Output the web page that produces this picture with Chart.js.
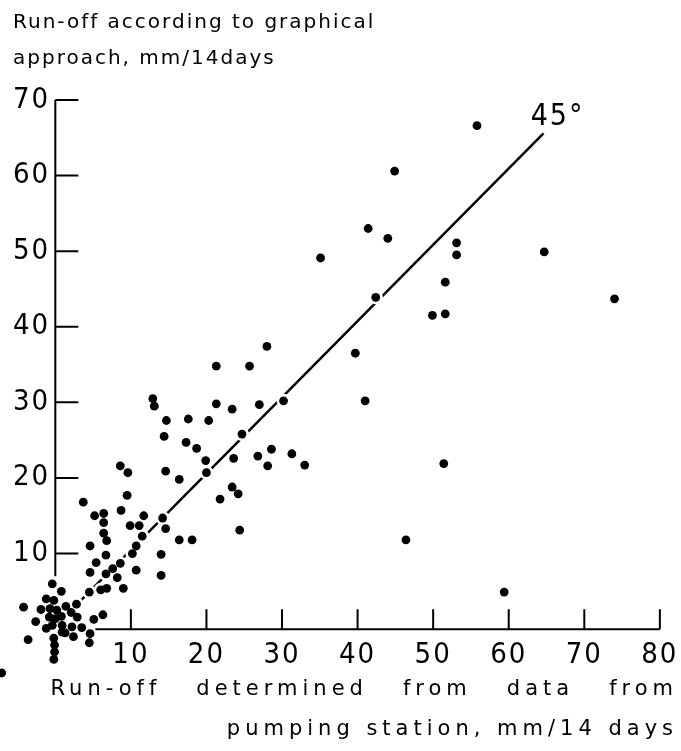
<!DOCTYPE html>
<html>
<head>
<meta charset="utf-8">
<script src="https://cdn.jsdelivr.net/npm/chart.js@4"></script>
<style>
  html, body { margin: 0; padding: 0; background: #fff; }
  #runoffChart { display: block; }
</style>
</head>
<body>
<canvas id="runoffChart" width="681" height="751"></canvas>
<script>
// run-off per 14 days: pumping station data (x) vs graphical approach (y)
var pumpingStation = [
  55.8, 44.9, 41.4, 44.0, 53.1, 53.1, 64.7, 51.6, 42.4, 74.0, 49.9, 51.6, 39.7, 41.0, 51.4, 46.4, 59.4, 35.1,
  28.0, 21.3, 25.7, 12.9, 13.1, 21.3, 23.4, 27.0, 30.2, 14.7, 17.6, 20.3, 14.4, 17.3, 18.7, 19.9, 20.0, 24.7,
  23.6, 26.8, 28.6, 31.3, 28.1, 33.0, 14.6, 16.4, 8.6, 9.6, 23.4, 24.2, 21.8, 9.5, 8.7, 6.4, 6.4, 11.7,
  14.2, 9.9, 11.1, 14.6, 6.4, 6.8, 11.5, 16.4, 18.1, 24.4, 10.7, 10.2, 6.7, 14.0, 8.6, 7.6, 6.7, 8.2,
  10.7, 14.0, 9.0, 6.8,
  3.7, 5.2, 4.6, 5.4, 4.6, -0.4, 4.5, 6.0, 0.8, -0.2, -1.2, -4.2, -1.9, -0.7, 0.2, 1.4, 2.8, 2.1,
  -0.8, 0.0, 0.8, 2.9, -2.6, -0.4, 0.9, -1.2, 0.9, 2.2, 3.5, 5.1, 6.3, 1.3, 2.4, 4.6, 4.5, -3.6,
  -0.2, -0.1, -0.1, -0.2, -7.1
];
var graphical = [
  66.6, 60.6, 53.0, 51.7, 51.1, 49.5, 49.9, 45.9, 43.9, 43.7, 41.5, 41.7, 36.5, 30.2, 21.9, 11.8, 4.9, 49.1,
  37.4, 34.8, 34.8, 30.5, 29.5, 29.8, 29.1, 29.7, 30.2, 27.6, 27.8, 27.6, 25.5, 24.7, 23.9, 22.3, 20.7, 25.8,
  22.6, 22.9, 23.8, 23.2, 21.6, 21.7, 20.9, 19.8, 21.6, 20.7, 18.8, 17.9, 17.2, 17.7, 15.7, 15.3, 14.1, 15.0,
  14.7, 13.7, 13.7, 13.3, 12.7, 11.7, 12.3, 11.8, 11.8, 13.1, 11.0, 10.0, 9.8, 9.9, 8.7, 8.0, 7.3, 6.8,
  7.8, 7.1, 5.4, 5.4,
  16.8, 15.0, 11.0, 8.8, 7.5, 6.0, 4.9, 5.2, 5.0, 3.8, 4.0, 2.9, 2.6, 2.7, 2.5, 3.0, 3.3, 2.2,
  1.6, 1.4, 1.7, 1.6, 1.0, 0.5, 0.5, 0.1, -0.4, 0.3, 0.2, 1.3, 1.9, -0.5, -1.0, -0.6, -1.8, -1.4,
  -1.2, -2.1, -3.0, -4.0, -5.8
];
var xTicks = [10, 20, 30, 40, 50, 60, 70, 80];
var yTicks = [10, 20, 30, 40, 50, 60, 70];
var lineX = [2.6, 64.6]; // the 45 degree line
var lineY = [3.0, 65.6];
var lineLabel = '45°';
var yTitle = ['Run-off according to graphical', 'approach, mm/14days'];
var xTitle = ['Run-off   determined   from   data   from', 'pumping station, mm/14 days'];

var points = pumpingStation.map(function (v, i) { return { x: v, y: graphical[i] }; });

var digitFont = '"Liberation Sans Narrow", "DejaVu Sans Condensed", "DejaVu Sans", sans-serif';
var textFont = '"DejaVu Sans", sans-serif';

// axes with inward ticks, the 45 label, and letter spacing of the lettering
var drawingPlugin = {
  id: 'drawing',
  beforeDraw: function (chart) {
    chart.ctx.letterSpacing = '2px';
  },
  afterDatasetsDraw: function (chart) {
    var ctx = chart.ctx, xs = chart.scales.x, ys = chart.scales.y;
    var x0 = xs.getPixelForValue(0), y0 = ys.getPixelForValue(0);
    ctx.save();
    ctx.strokeStyle = '#000';
    ctx.lineWidth = 2;
    ctx.beginPath();
    ctx.moveTo(x0, ys.getPixelForValue(70));
    ctx.lineTo(x0, ys.getPixelForValue(7));
    yTicks.forEach(function (v) {
      var p = ys.getPixelForValue(v);
      ctx.moveTo(x0, p);
      ctx.lineTo(x0 + 23, p);
    });
    ctx.moveTo(xs.getPixelForValue(5.3), y0);
    ctx.lineTo(xs.getPixelForValue(80), y0);
    xTicks.forEach(function (v) {
      var p = xs.getPixelForValue(v);
      ctx.moveTo(p, y0);
      ctx.lineTo(p, y0 - 20);
    });
    ctx.stroke();
    ctx.restore();
    ctx.letterSpacing = '5px'; // x axis title is drawn after this
  },
  afterDraw: function (chart) {
    var ctx = chart.ctx, xs = chart.scales.x, ys = chart.scales.y;
    ctx.save();
    ctx.letterSpacing = '2px';
    ctx.fillStyle = '#000';
    ctx.font = '30px ' + digitFont;
    ctx.textAlign = 'left';
    ctx.textBaseline = 'alphabetic';
    ctx.fillText(lineLabel, xs.getPixelForValue(62.9), ys.getPixelForValue(66.7));
    ctx.restore();
    ctx.letterSpacing = '0px';
  }
};

var ctx = document.getElementById('runoffChart').getContext('2d');
var runoffChart = new Chart(ctx, {
  type: 'scatter',
  data: {
    datasets: [{
      type: 'line',
      data: [{ x: lineX[0], y: lineY[0] }, { x: lineX[1], y: lineY[1] }],
      borderColor: '#000',
      borderWidth: 2.5,
      pointRadius: 0,
      order: 3
    }, {
      // white halo that breaks the line round each dot
      data: points,
      backgroundColor: '#fff',
      borderWidth: 0,
      pointRadius: 7,
      clip: false,
      order: 2
    }, {
      data: points,
      backgroundColor: '#000',
      borderColor: 'rgba(0,0,0,0)',
      borderWidth: 8, // invisible, lets the dot left of the plot area be drawn
      pointRadius: 4.4,
      clip: false,
      order: 1
    }]
  },
  options: {
    responsive: false,
    animation: false,
    events: [],
    layout: { autoPadding: false, padding: { left: 13, right: 3, top: 0, bottom: 0 } },
    scales: {
      x: {
        type: 'linear',
        min: -5.6,
        max: 82.4,
        grid: { display: false, drawTicks: false, z: 1 },
        border: { display: false },
        afterBuildTicks: function (s) { s.ticks = xTicks.map(function (v) { return { value: v }; }); },
        afterFit: function (s) { s.height = 75; },
        ticks: { mirror: true, padding: 3.6, color: '#000', maxRotation: 0, autoSkip: false, font: { family: digitFont, size: 29 } },
        title: {
          display: true,
          text: xTitle,
          align: 'end',
          color: '#000',
          font: { family: textFont, size: 21, lineHeight: 1.905 },
          padding: { top: 0, bottom: 1 }
        }
      },
      y: {
        type: 'linear',
        min: -6.2,
        max: 70,
        grid: { display: false, drawTicks: false },
        border: { display: false },
        afterBuildTicks: function (s) { s.ticks = yTicks.map(function (v) { return { value: v }; }); },
        afterFit: function (s) { s.width = 0; },
        ticks: { mirror: true, padding: 0, color: '#000', font: { family: digitFont, size: 29 } }
      }
    },
    plugins: {
      legend: { display: false },
      tooltip: { enabled: false },
      title: {
        display: true,
        text: yTitle,
        align: 'start',
        color: '#000',
        font: { family: textFont, size: 20, weight: 'normal', lineHeight: 1.8 },
        padding: { top: 4.6, bottom: 23.4 }
      }
    }
  },
  plugins: [drawingPlugin]
});
</script>
</body>
</html>
